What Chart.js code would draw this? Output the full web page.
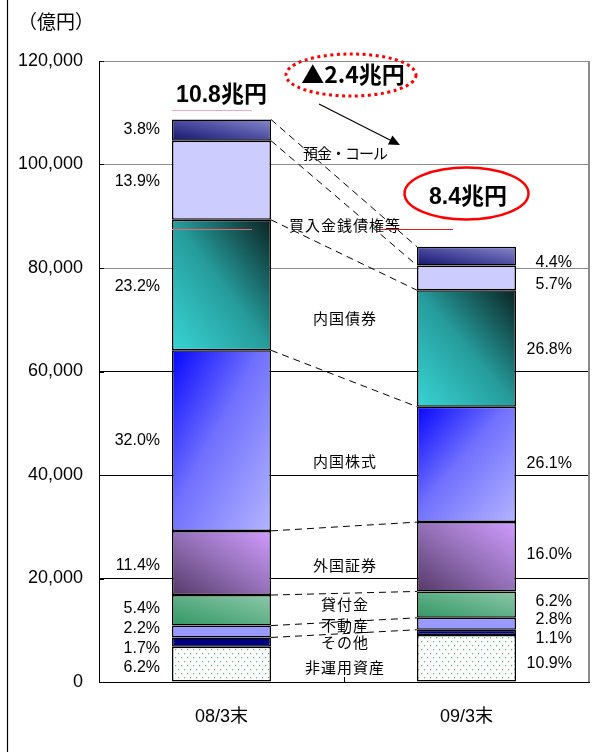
<!DOCTYPE html>
<html><head><meta charset="utf-8">
<script src="https://cdn.jsdelivr.net/npm/chart.js@4.4.1/dist/chart.umd.min.js"></script>
<style>html,body{margin:0;padding:0;background:#fff;}canvas{display:block;}</style>
</head><body>
<canvas id="c" width="598" height="752"></canvas>
<script>
// ---- data (bottom segment first) ----
const categories = ['08/3末', '09/3末'];
const seriesNames = ['非運用資産', 'その他', '不動産', '貸付金', '外国証券', '内国株式', '内国債券', '買入金銭債権等', '預金・コール'];
const values0803 = [6800, 1800, 2300, 5900, 12400, 34900, 25200, 15300, 4100];
const values0903 = [9100, 1000, 2300, 5100, 13400, 22300, 22500, 4800, 3600];
const pct0803 = ['6.2%', '1.7%', '2.2%', '5.4%', '11.4%', '32.0%', '23.2%', '13.9%', '3.8%'];
const pct0903 = ['10.9%', '1.1%', '2.8%', '6.2%', '16.0%', '26.1%', '26.8%', '5.7%', '4.4%'];
const totalLabels = ['10.8兆円', '8.4兆円'];
const changeLabel = '▲2.4兆円';
const unitLabel = '（億円）';
const yTickValues = [0, 20000, 40000, 60000, 80000, 100000, 120000];

// ---- layout (not data) ----
const FONT = "'Noto Sans CJK JP', 'Noto Sans', sans-serif";
const NUMFONT = "'Liberation Sans', 'Noto Sans CJK JP', sans-serif";
const BAR_FRAC = 0.404;
const seriesLabelY = [667, 642, 625, 604, 565, 461, 318, 225, 153];
const pctNudge0803 = [3, 6, -3, -2, 3, 0, 2, 1, 0];
const pctNudge0903 = [5, 6, -4, -3, -2, -1, 1, 7, 6];

const seriesValues = seriesNames.map((_, i) => [values0803[i], values0903[i]]);

function barGeom(chart, ds, idx) {
  const xs = chart.scales.x, ys = chart.scales.y;
  const cx = xs.getPixelForValue(idx);
  const w = (xs.right - xs.left) / categories.length * BAR_FRAC;
  let base = 0;
  for (let k = 0; k < ds; k++) base += seriesValues[k][idx];
  const top = base + seriesValues[ds][idx];
  return { l: cx - w / 2, r: cx + w / 2, t: ys.getPixelForValue(top), b: ys.getPixelForValue(base) };
}
function diagGrad(c, g, from, stops) {
  const w = g.r - g.l, h = g.b - g.t;
  let sx, sy, nx, ny;
  if (from === 'tl') { sx = g.l; sy = g.t; nx = h; ny = w; }
  else { sx = g.l; sy = g.b; nx = h; ny = -w; }
  const k = 2 * w * h / (h * h + w * w);
  const grad = c.createLinearGradient(sx, sy, sx + nx * k, sy + ny * k);
  stops.forEach(([o, col]) => grad.addColorStop(o, col));
  return grad;
}
let patternCache = null;
function dotPattern(c) {
  if (patternCache) return patternCache;
  const p = document.createElement('canvas'); p.width = 6; p.height = 8;
  const x = p.getContext('2d');
  x.fillStyle = '#fff'; x.fillRect(0, 0, 6, 8);
  x.fillStyle = '#d2eedd';
  x.fillRect(2, 1, 1, 1); x.fillRect(1, 2, 1, 1);
  x.fillRect(5, 5, 1, 1); x.fillRect(4, 6, 1, 1);
  x.fillStyle = '#4cb97e';
  x.fillRect(1, 1, 1, 1); x.fillRect(4, 5, 1, 1);
  patternCache = c.createPattern(p, 'repeat');
  return patternCache;
}
const flatColors = ['#ffffff', '#000080', '#9999ff', '#55aa80', '#9a70c0', '#6060ff', '#2a9a9a', '#ccccff', '#5050a0'];
function fillFor(i) {
  return (ctx) => {
    const chart = ctx.chart, c = chart.ctx;
    if (i === 0) return dotPattern(c);
    if (i === 1 || i === 2 || i === 7) return flatColors[i];
    if (ctx.type !== 'data' || !chart.scales || !chart.scales.x || !chart.scales.y) return flatColors[i];
    const g = barGeom(chart, ctx.datasetIndex, ctx.dataIndex);
    if (![g.l, g.r, g.t, g.b].every(Number.isFinite) || g.b - g.t <= 0) return flatColors[i];
    switch (i) {
      case 3: return diagGrad(c, g, 'bl', [[0, '#329763'], [1, '#8cc8aa']]);
      case 4: return diagGrad(c, g, 'bl', [[0, '#553968'], [0.5, '#9470b8'], [1, '#d09cff']]);
      case 5: return diagGrad(c, g, 'tl', [[0, '#0606ff'], [0.45, '#7070ff'], [1, '#b4b4ff']]);
      case 6: return diagGrad(c, g, 'bl', [[0, '#38d4d4'], [0.5, '#269c9c'], [1, '#0b2222']]);
      case 8: return diagGrad(c, g, 'bl', [[0, '#15156e'], [0.5, '#4c4ca0'], [1, '#8888cc']]);
    }
    return flatColors[i];
  };
}

const overlay = {
  id: 'overlay',
  afterDatasetsDraw(chart) {
    const c = chart.ctx;
    c.save();
    c.strokeStyle = '#000'; c.lineWidth = 1; c.setLineDash([7, 5]);
    for (let i = 1; i < seriesNames.length; i++) {
      const a = barGeom(chart, i, 0), b = barGeom(chart, i, 1);
      c.beginPath(); c.moveTo(a.r, a.t); c.lineTo(b.l, b.t); c.stroke();
    }
    c.restore();
  },
  afterDraw(chart) {
    const c = chart.ctx, ca = chart.chartArea;
    const xs = chart.scales.x, ys = chart.scales.y;
    c.save();
    // outer frame line at left
    c.strokeStyle = '#000'; c.lineWidth = 1.2;
    c.beginPath(); c.moveTo(7.5, 0); c.lineTo(7.5, 752); c.stroke();
    // right plot border
    c.strokeStyle = '#8c8c8c'; c.lineWidth = 2;
    c.beginPath(); c.moveTo(ca.right, ca.top); c.lineTo(ca.right, ca.bottom); c.stroke();
    // inside ticks
    c.strokeStyle = '#000'; c.lineWidth = 1;
    yTickValues.forEach(v => {
      const y = Math.round(ys.getPixelForValue(v)) + 0.5;
      c.beginPath(); c.moveTo(ca.left, y); c.lineTo(ca.left + 5, y); c.stroke();
    });
    const midX = (xs.getPixelForValue(0) + xs.getPixelForValue(1)) / 2;
    c.beginPath(); c.moveTo(Math.round(midX) + 0.5, ca.bottom - 5); c.lineTo(Math.round(midX) + 0.5, ca.bottom); c.stroke();

    // unit label
    c.fillStyle = '#000'; c.textBaseline = 'middle';
    c.font = '19px ' + FONT; c.textAlign = 'left';
    c.fillText(unitLabel, 18, 22);

    // series labels
    c.font = '15px ' + FONT; c.textAlign = 'center';
    seriesNames.forEach((n, i) => {
      try { c.letterSpacing = (i === seriesNames.length - 1) ? '-1px' : '1px'; } catch (e) {}
      c.fillText(n, midX + 1, seriesLabelY[i]);
    });
    try { c.letterSpacing = '0px'; } catch (e) {}

    // percent labels
    c.font = '16px ' + NUMFONT; c.textAlign = 'right';
    seriesNames.forEach((n, i) => {
      const a = barGeom(chart, i, 0), b = barGeom(chart, i, 1);
      c.fillText(pct0803[i], a.l - 12, (a.t + a.b) / 2 + pctNudge0803[i]);
      c.fillText(pct0903[i], b.r + 56, (b.t + b.b) / 2 + pctNudge0903[i]);
    });

    // totals
    c.font = 'bold 23px ' + NUMFONT; c.textAlign = 'center';
    const b0 = barGeom(chart, seriesNames.length - 1, 0);
    const cx0 = (b0.l + b0.r) / 2;
    c.fillText(totalLabels[0], cx0, 96);
    c.strokeStyle = '#f0a8c8'; c.lineWidth = 1;
    c.beginPath(); c.moveTo(b0.l, 110.5); c.lineTo(b0.l + 80, 110.5); c.stroke();
    c.fillStyle = '#000';
    c.fillText(totalLabels[1], 468, 198);
    c.font = 'bold 23px ' + FONT;
    c.fillText(changeLabel, 353, 74);

    // stray red lines (as in reference)
    c.strokeStyle = '#e86a6a'; c.lineWidth = 1;
    c.beginPath(); c.moveTo(b0.l, 229.5); c.lineTo(b0.l + 80, 229.5); c.stroke();
    c.strokeStyle = '#e02020';
    c.beginPath(); c.moveTo(380, 229.5); c.lineTo(453, 229.5); c.stroke();

    // ellipses
    c.strokeStyle = '#ff0000'; c.lineWidth = 3; c.setLineDash([3, 3.5]);
    c.beginPath(); c.ellipse(351, 75, 65, 21, 0, 0, Math.PI * 2); c.stroke();
    c.setLineDash([]); c.lineWidth = 2.5;
    c.beginPath(); c.ellipse(466.5, 193.5, 62, 26, 0, 0, Math.PI * 2); c.stroke();

    // arrow
    const x1 = 319, y1 = 104, x2 = 400, y2 = 145;
    const ang = Math.atan2(y2 - y1, x2 - x1);
    c.strokeStyle = '#000'; c.fillStyle = '#000'; c.lineWidth = 1.2;
    c.beginPath(); c.moveTo(x1, y1); c.lineTo(x2 - 9 * Math.cos(ang), y2 - 9 * Math.sin(ang)); c.stroke();
    c.beginPath();
    c.moveTo(x2, y2);
    c.lineTo(x2 - 11 * Math.cos(ang) + 5 * Math.sin(ang), y2 - 11 * Math.sin(ang) - 5 * Math.cos(ang));
    c.lineTo(x2 - 11 * Math.cos(ang) - 5 * Math.sin(ang), y2 - 11 * Math.sin(ang) + 5 * Math.cos(ang));
    c.closePath(); c.fill();
    c.restore();
  }
};

new Chart(document.getElementById('c'), {
  type: 'bar',
  data: {
    labels: categories,
    datasets: seriesNames.map((name, i) => ({
      label: name,
      data: seriesValues[i],
      backgroundColor: fillFor(i),
      borderColor: '#000',
      borderWidth: 1.5,
      borderSkipped: false,
      barPercentage: BAR_FRAC,
      categoryPercentage: 1
    }))
  },
  options: {
    responsive: false,
    animation: false,
    events: [],
    layout: { padding: { left: 0, right: 9, top: 61, bottom: 0 } },
    plugins: { legend: { display: false }, tooltip: { enabled: false }, title: { display: false } },
    scales: {
      x: {
        stacked: true,
        grid: { display: false, drawTicks: false },
        border: { color: '#000', width: 1 },
        ticks: { color: '#000', font: { family: NUMFONT, size: 18 }, padding: 24 },
        afterFit(s) { s.height = 70; }
      },
      y: {
        stacked: true, min: 0, max: 120000,
        afterBuildTicks(s) { s.ticks = yTickValues.map(v => ({ value: v })); },
        grid: { drawTicks: false, color: (ctx) => (ctx.tick && ctx.tick.value >= 80000) ? '#8c8c8c' : '#000', lineWidth: 1 },
        border: { color: '#000', width: 1 },
        ticks: { color: '#000', font: { family: NUMFONT, size: 18 }, padding: 16,
                 callback: (v) => Number(v).toLocaleString('en-US') },
        afterFit(s) { s.width = 99; }
      }
    }
  },
  plugins: [overlay]
});
</script>
</body></html>
